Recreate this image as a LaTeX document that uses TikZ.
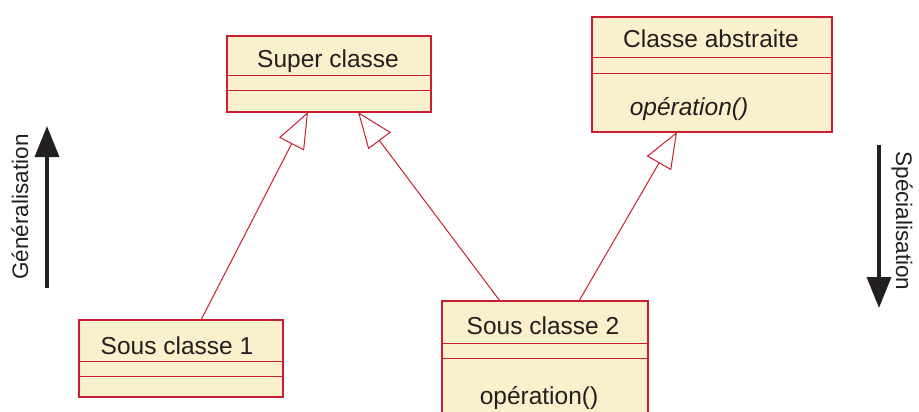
\documentclass[tikz,border=0pt]{standalone}
\usepackage{fontspec}
\setmainfont{Liberation Sans}
\usetikzlibrary{arrows.meta,calc}
\definecolor{umlfill}{RGB}{250,240,204}
\definecolor{umlline}{RGB}{200,30,50}
\definecolor{darkink}{RGB}{35,31,32}
\begin{document}
\begin{tikzpicture}[x=1pt,y=-1pt,
 classbox/.style={draw=umlline, fill=umlfill, line width=1.5pt, anchor=north west, inner sep=0pt, outer sep=0pt},
 sep/.style={draw=umlline, line width=1pt},
 lbl/.style={font=\fontsize{24.5}{29}\selectfont, anchor=base, inner sep=0pt, text=darkink},
 gen/.style={draw=umlline, line width=1pt, -{Triangle[open, length=36pt, width=28pt]}},
 dirarrow/.style={draw=darkink, line width=3.5pt, -{Triangle[length=31pt,width=24pt]}},
 side/.style={font=\fontsize{22.5}{27}\selectfont, inner sep=0pt, text=darkink}]
\useasboundingbox (0,0) rectangle (919,412);
\clip (0,0) rectangle (919,412);
\fill[white] (0,0) rectangle (919,412);

% Super classe
\node[classbox, minimum width=204pt, minimum height=76pt] (super) at (227,36) {};
\draw[sep] ($(super.north west)+(0,40)$) -- ($(super.north east)+(0,40)$);
\draw[sep] ($(super.north west)+(0,55)$) -- ($(super.north east)+(0,55)$);
\node[lbl] (supert) at (328,67) {Super classe};

% Classe abstraite
\node[classbox, minimum width=240pt, minimum height=115pt] (abstr) at (592,17) {};
\draw[sep] ($(abstr.north west)+(0,41)$) -- ($(abstr.north east)+(0,41)$);
\draw[sep] ($(abstr.north west)+(0,57)$) -- ($(abstr.north east)+(0,57)$);
\node[lbl] (abstrt) at (711,48) {Classe abstraite};
\node[lbl] (abstro) at (689,116) {\itshape opération()};

% Sous classe 1
\node[classbox, minimum width=204pt, minimum height=77pt] (sc1) at (79,320) {};
\draw[sep] ($(sc1.north west)+(0,41)$) -- ($(sc1.north east)+(0,41)$);
\draw[sep] ($(sc1.north west)+(0,56)$) -- ($(sc1.north east)+(0,56)$);
\node[lbl] (sc1t) at (177,354) {Sous classe 1};

% Sous classe 2
\node[classbox, minimum width=206pt, minimum height=125pt] (sc2) at (442,301) {};
\draw[sep] ($(sc2.north west)+(0,42)$) -- ($(sc2.north east)+(0,42)$);
\draw[sep] ($(sc2.north west)+(0,57)$) -- ($(sc2.north east)+(0,57)$);
\node[lbl] (sc2t) at (543,334) {Sous classe 2};
\node[lbl] (sc2o) at (539,404) {opération()};

% generalisation connectors
\draw[gen] ($(sc1.north west)+(122,0)$) -- ($(super.south west)+(81,0)$);
\draw[gen] ($(sc2.north west)+(58,0)$) -- ($(super.south west)+(131,0)$);
\draw[gen] ($(sc2.north west)+(137,0)$) -- ($(abstr.south west)+(85,0)$);

% side arrows
\coordinate (g1) at (47,288);
\coordinate (g2) at (47,126);
\draw[dirarrow] (g1) -- (g2);
\node[side, rotate=90] (gtxt) at (20,207) {Généralisation};
\coordinate (s1) at (879,145);
\coordinate (s2) at (879,308);
\draw[dirarrow] (s1) -- (s2);
\node[side, rotate=-90] (stxt) at (902,221) {Spécialisation};
\end{tikzpicture}
\end{document}
